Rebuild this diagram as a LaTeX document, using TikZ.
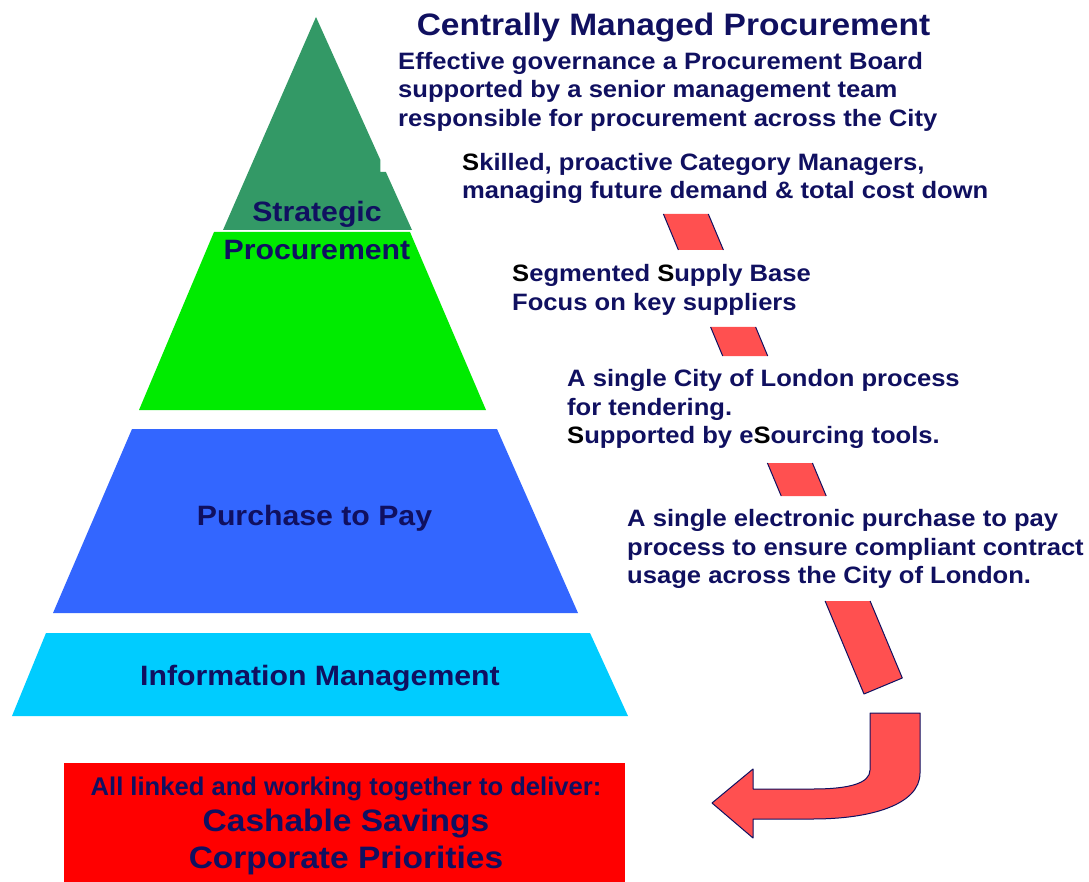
\documentclass[tikz,border=0pt]{standalone}
\usepackage{fontspec}
\setmainfont{Liberation Sans}[FakeStretch=1.08]
\newfontfamily\plainsans{Liberation Sans}
\definecolor{navyText}{RGB}{16,16,96}
\definecolor{stratGreen}{RGB}{51,153,102}
\definecolor{procGreen}{RGB}{0,235,0}
\definecolor{payBlue}{RGB}{51,102,255}
\definecolor{infoCyan}{RGB}{0,204,255}
\definecolor{barRed}{RGB}{255,80,80}
\definecolor{boxRed}{RGB}{255,0,0}
\tikzstyle{bodyText} = [anchor=north west, inner sep=0pt, align=left, text=navyText,
	font=\bfseries\fontsize{23.7}{28.5}\selectfont]
\tikzstyle{layerText} = [anchor=base, inner sep=0pt, text=navyText,
	font=\bfseries\fontsize{28}{34}\selectfont]
\tikzstyle{titleText} = [anchor=base, inner sep=0pt, text=navyText,
	font=\bfseries\fontsize{31}{36}\selectfont]
\tikzstyle{goalText} = [anchor=base, inner sep=0pt, text=navyText,
	font=\bfseries\fontsize{31}{36}\selectfont]
\tikzstyle{linkText} = [anchor=base, inner sep=0pt, text=navyText,
	font=\plainsans\bfseries\fontsize{25.6}{30}\selectfont]
\tikzstyle{barFill} = [fill=barRed]
\tikzstyle{barEdge} = [draw=navyText, line width=1pt, line join=round]
\newcommand{\keyS}{\textcolor{black}{S}}

\begin{document}
\begin{tikzpicture}[x=1pt, y=-1pt]
  \useasboundingbox (0,0) rectangle (1089,882);

  % pyramid layers
  \fill[stratGreen] (316,17) -- (380.4,160) -- (380.4,172) -- (385.9,172)
    -- (412,230) -- (223,230) -- cycle;
  \fill[procGreen] (214,232) -- (410,232) -- (486,410) -- (139,410) -- cycle;
  \fill[payBlue] (132,429) -- (497,429) -- (578,613) -- (53,613) -- cycle;
  \fill[infoCyan] (46,633) -- (590,633) -- (628,716) -- (12,716) -- cycle;
  \fill[boxRed] (64,763) rectangle (625,882);

  \node (STR) [layerText] at (317,222) {Strategic};
  \node (PRO) [layerText] at (317,260) {Procurement};
  \node (PTP) [layerText] at (314.5,525) {Purchase to Pay};
  \node (INF) [layerText] at (320,685) {Information Management};

  % red bar pieces between the texts
  \fill[barFill] (663.4,214) -- (708.3,214) -- (723.4,250) -- (678.4,250) -- cycle;
  \draw[barEdge] (663.4,214) -- (678.4,250) (708.3,214) -- (723.4,250);
  \fill[barFill] (710.6,327) -- (755.6,327) -- (767.7,356) -- (722.7,356) -- cycle;
  \draw[barEdge] (710.6,327) -- (722.7,356) (755.6,327) -- (767.7,356);
  \fill[barFill] (767.4,463) -- (812.4,463) -- (826.2,496) -- (781.2,496) -- cycle;
  \draw[barEdge] (767.4,463) -- (781.2,496) (812.4,463) -- (826.2,496);
  \fill[barFill] (825.1,601) -- (870.1,601) -- (902.3,678) -- (864,694) -- cycle;
  \draw[barEdge] (825.1,601) -- (864,694) -- (902.3,678) -- (870.1,601);

  % bent arrow
  \filldraw[barFill, barEdge] (870,713) -- (920,713) -- (920,773)
    .. controls (920,805) and (870,819) .. (813,819) -- (753,819) -- (753,838)
    -- (712,803) -- (753,769) -- (753,789) -- (813,789)
    .. controls (850,789) and (870,783) .. (870,770) -- cycle;

  % texts
  \node (TITLE) [titleText] at (673.5,36) {Centrally Managed Procurement};
  \node (GOV) [bodyText] at (398,52) {Effective governance a Procurement Board\\
    supported by a senior management team\\responsible for procurement across the City};
  \node (CAT) [bodyText] at (462,153) {\keyS killed, proactive Category Managers,\\
    managing future demand \& total cost down};
  \node (SUP) [bodyText] at (512,264.5) {\keyS egmented \keyS upply Base\\Focus on key suppliers};
  \node (TEN) [bodyText] at (567,369.5) {A single City of London process\\for tendering.\\
    \keyS upported by e\keyS ourcing tools.};
  \node (P2P) [bodyText] at (627,509.5) {A single electronic purchase to pay\\
    process to ensure compliant contract\\usage across the City of London.};

  \node (LINK) [linkText] at (346,795) {All linked and working together to deliver:};
  \node (CASH) [goalText] at (346,831.5) {Cashable Savings};
  \node (CORP) [goalText] at (346,868) {Corporate Priorities};
\end{tikzpicture}
\end{document}
